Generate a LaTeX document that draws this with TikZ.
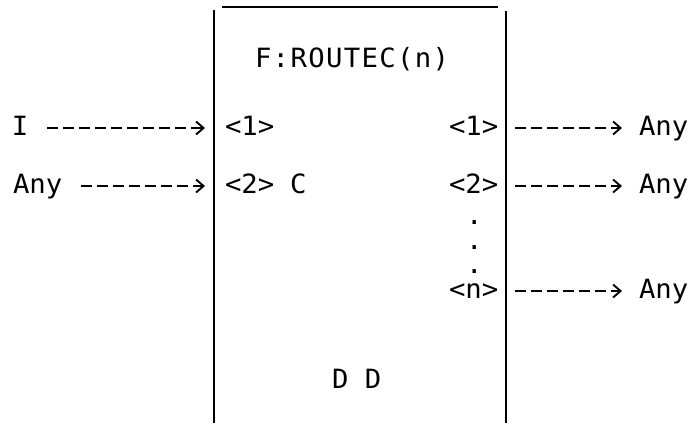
\documentclass[tikz,border=0pt]{standalone}
\usepackage{fontspec}
\setmonofont[FakeStretch=1.03]{DejaVu Sans Mono}
\usetikzlibrary{arrows.meta}
\begin{document}
\begin{tikzpicture}[x=1pt,y=-1pt,
  lbl/.style={font=\ttfamily\fontsize{26.5}{30}\selectfont, inner sep=0pt, outer sep=0pt, anchor=base west, text height=14pt, text depth=0pt},
  wire/.style={line width=1.8pt, dash pattern=on 11pt off 5pt, -{Straight Barb[length=7.5pt,width=13pt,line width=1.9pt]}},
  lframe/.style={line width=2.6pt},
  rframe/.style={line width=2.4pt},
  tframe/.style={line width=1.6pt}]
\useasboundingbox (0,0) rectangle (692,423);
% frame
\coordinate (tl) at (214,10);
\coordinate (bl) at (214,423);
\coordinate (tr) at (506,11);
\coordinate (br) at (506,423);
\coordinate (ta) at (222,7);
\coordinate (tb) at (498,7);
\draw[lframe] (tl) -- (bl);
\draw[rframe] (tr) -- (br);
\draw[tframe] (ta) -- (tb);
% texts
\node[lbl] (title) at (255,67) {\addfontfeature{LetterSpace=5}F:ROUTEC(n)};
\node[lbl] (in1) at (12,135) {I};
\node[lbl] (in2) at (13,193) {Any};
\node[lbl] (pl1) at (225,135) {<1>};
\node[lbl] (pl2) at (225,193) {<2>};
\node[lbl] (c) at (290,193) {C};
\node[lbl] (pr1) at (449,135) {<1>};
\node[lbl] (pr2) at (449,193) {<2>};
\node[lbl] (d1) at (466,224) {.};
\node[lbl] (d2) at (466,249) {.};
\node[lbl] (d3) at (466,273) {.};
\node[lbl] (prn) at (449,298) {<n>};
\node[lbl] (o1) at (639,135) {Any};
\node[lbl] (o2) at (639,193) {Any};
\node[lbl] (on) at (639,298) {Any};
\node[lbl] (dd) at (332,388) {D D};
% connectors
\draw[wire, shorten <=19pt, shorten >=20pt] (in1.east) -- (pl1.west);
\draw[wire, shorten <=19pt, shorten >=20pt] (in2.east) -- (pl2.west);
\draw[wire, shorten <=17pt, shorten >=17pt] (pr1.east) -- (o1.west);
\draw[wire, shorten <=17pt, shorten >=17pt] (pr2.east) -- (o2.west);
\draw[wire, shorten <=17pt, shorten >=17pt] (prn.east) -- (on.west);
\end{tikzpicture}
\end{document}
